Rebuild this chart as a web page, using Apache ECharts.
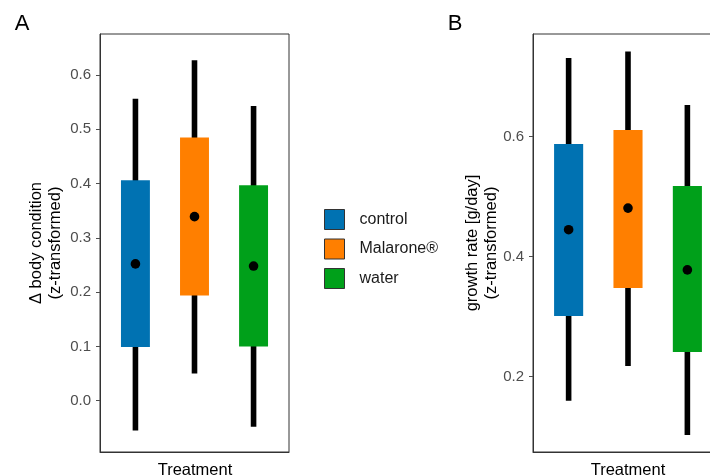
<!DOCTYPE html>
<html>
<head>
<meta charset="utf-8">
<script src="https://cdn.jsdelivr.net/npm/echarts@6/dist/echarts.min.js"></script>
<style>
html,body{margin:0;padding:0;background:#fff;}
#c{width:710px;height:476px;}
</style>
</head>
<body>
<div id="c"></div>
<script>
// ---- data ----
var categories = ['control', 'Malarone®', 'water'];
var colors = ['#0072B2', '#FF7F00', '#00A01A'];

// Panel A: Δ body condition (z-transformed)
var bcLow  = [-0.055, 0.050, -0.048];
var bcQ1   = [0.099, 0.194, 0.100];
var bcMean = [0.252, 0.339, 0.248];
var bcQ3   = [0.406, 0.485, 0.397];
var bcHigh = [0.556, 0.627, 0.543];

// Panel B: growth rate [g/day] (z-transformed)
var grLow  = [0.160, 0.218, 0.103];
var grQ1   = [0.301, 0.348, 0.241];
var grMean = [0.445, 0.481, 0.378];
var grQ3   = [0.588, 0.611, 0.518];
var grHigh = [0.731, 0.742, 0.653];

var ticksA = [0.0, 0.1, 0.2, 0.3, 0.4, 0.5, 0.6];
var ticksB = [0.2, 0.4, 0.6];

var FONT = 'Liberation Sans, Arial, sans-serif';

function renderItem(params, api) {
  var x = api.value(0);
  var low = api.coord([x, api.value(1)]);
  var q1 = api.coord([x, api.value(2)]);
  var mean = api.coord([x, api.value(3)]);
  var q3 = api.coord([x, api.value(4)]);
  var high = api.coord([x, api.value(5)]);
  var halfW = api.size([0.49, 0])[0] / 2;
  var col = api.visual('color');
  return {
    type: 'group',
    children: [
      { type: 'rect', shape: { x: low[0] - 2.8, y: high[1], width: 5.6, height: low[1] - high[1] },
        style: { fill: '#000' } },
      { type: 'rect', shape: { x: q3[0] - halfW, y: q3[1], width: halfW * 2, height: q1[1] - q3[1] },
        style: { fill: col } },
      { type: 'circle', shape: { cx: mean[0], cy: mean[1], r: 4.8 },
        style: { fill: '#000' } }
    ]
  };
}

function makeSeries(gridIdx, low, q1, mean, q3, high) {
  return categories.map(function (name, i) {
    return {
      name: name,
      type: 'custom',
      xAxisIndex: gridIdx,
      yAxisIndex: gridIdx,
      itemStyle: { color: colors[i] },
      renderItem: renderItem,
      encode: { x: 0, y: [1, 2, 3, 4, 5] },
      data: [[i + 1, low[i], q1[i], mean[i], q3[i], high[i]]],
      clip: true,
      silent: true
    };
  });
}

function yAxisCfg(gridIdx, min, max, ticks) {
  return {
    type: 'value',
    gridIndex: gridIdx,
    min: min, max: max,
    splitLine: { show: false },
    axisLine: { show: true, lineStyle: { color: '#333', width: 1 } },
    axisTick: { show: true, length: 4, lineStyle: { color: '#4d4d4d', width: 1 }, customValues: ticks },
    axisLabel: {
      customValues: ticks, color: '#4d4d4d', fontSize: 15, fontFamily: FONT, margin: 9,
      formatter: function (v) { return v.toFixed(1); }
    }
  };
}

function xAxisCfg(gridIdx) {
  return {
    type: 'value', gridIndex: gridIdx, min: 0.4, max: 3.6,
    splitLine: { show: false },
    axisLine: { show: true, onZero: false, lineStyle: { color: '#333', width: 1 } },
    axisTick: { show: false }, axisLabel: { show: false }
  };
}

var chart = echarts.init(document.getElementById('c'), null, { renderer: 'canvas' });
chart.setOption({
  backgroundColor: '#fff',
  animation: false,
  grid: [
    { left: 100, top: 34, width: 189, height: 418, show: true, borderColor: '#333', borderWidth: 1,
      backgroundColor: 'transparent', outerBoundsMode: 'none', containLabel: false },
    { left: 533, top: 34, width: 190, height: 418, show: true, borderColor: '#333', borderWidth: 1,
      backgroundColor: 'transparent', outerBoundsMode: 'none', containLabel: false }
  ],
  xAxis: [xAxisCfg(0), xAxisCfg(1)],
  yAxis: [yAxisCfg(0, -0.0945, 0.6755, ticksA), yAxisCfg(1, 0.0745, 0.7712, ticksB)],
  legend: {
    data: categories,
    orient: 'vertical',
    left: 319, top: 204,
    itemWidth: 20, itemHeight: 20, itemGap: 8.5,
    icon: 'rect',
    itemStyle: { borderColor: '#333', borderWidth: 1 },
    textStyle: { fontSize: 16, fontFamily: FONT, color: '#1a1a1a', padding: [0, 0, 0, 10] },
    selectedMode: false
  },
  graphic: [
    { type: 'text', x: 22, y: 24, style: { text: 'A', font: '22px ' + FONT, fill: '#000', align: 'center', verticalAlign: 'middle' } },
    { type: 'text', x: 455, y: 24, style: { text: 'B', font: '22px ' + FONT, fill: '#000', align: 'center', verticalAlign: 'middle' } },
    { type: 'text', x: 46, y: 243, rotation: Math.PI / 2,
      style: { text: 'Δ body condition\n(z-transformed)', font: '16.5px ' + FONT, lineHeight: 18.5, fill: '#000', align: 'center', verticalAlign: 'middle' } },
    { type: 'text', x: 482, y: 243, rotation: Math.PI / 2,
      style: { text: 'growth rate [g/day]\n(z-transformed)', font: '16.5px ' + FONT, lineHeight: 18.5, fill: '#000', align: 'center', verticalAlign: 'middle' } },
    { type: 'text', x: 195, y: 470, style: { text: 'Treatment', font: '16.5px ' + FONT, fill: '#000', align: 'center', verticalAlign: 'middle' } },
    { type: 'text', x: 628, y: 470, style: { text: 'Treatment', font: '16.5px ' + FONT, fill: '#000', align: 'center', verticalAlign: 'middle' } }
  ],
  series: makeSeries(0, bcLow, bcQ1, bcMean, bcQ3, bcHigh).concat(makeSeries(1, grLow, grQ1, grMean, grQ3, grHigh))
});
</script>
</body>
</html>
